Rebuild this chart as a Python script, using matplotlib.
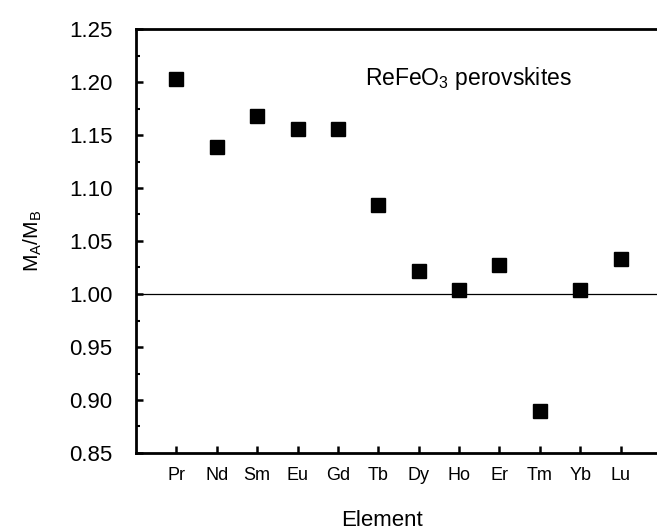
import numpy as np
import matplotlib.pyplot as plt
from matplotlib.ticker import MultipleLocator

plt.rcParams['font.family'] = ['Liberation Sans', 'DejaVu Sans']

elements = ['Pr', 'Nd', 'Sm', 'Eu', 'Gd', 'Tb', 'Dy', 'Ho', 'Er', 'Tm', 'Yb', 'Lu']
ratio = [1.203, 1.139, 1.168, 1.156, 1.156, 1.084, 1.022, 1.004, 1.027, 0.890, 1.004, 1.033]

fig = plt.figure(figsize=(6.57, 5.32), dpi=100)
# right spine sits just off the canvas, as in the original
ax = fig.add_axes([136 / 657, 79 / 532, 525 / 657, 424 / 532])

x = np.arange(1, len(elements) + 1)
ax.plot(x, ratio, 's', color='black', markersize=9.4, linestyle='none', clip_on=False)
ax.axhline(1.0, color='black', linewidth=0.9)

ax.set_xlim(0, 13)
ax.set_xticks(x)
ax.set_xticklabels(elements, fontsize=13)
ax.yaxis.set_minor_locator(MultipleLocator(0.025))
ax.set_yticks(np.arange(0.85, 1.2501, 0.05))
ax.set_yticklabels([f'{v:.2f}' for v in ax.get_yticks()], fontsize=16)
ax.set_ylim(0.85, 1.25)

ax.tick_params(which='major', direction='in', length=5, width=1.8)
ax.tick_params(which='minor', direction='in', length=3, width=1.5)
ax.tick_params(axis='x', pad=10)
ax.tick_params(axis='y', pad=17)
for s in ax.spines.values():
    s.set_linewidth(2)

ax.set_xlabel('Element', fontsize=16)
ax.xaxis.set_label_coords(0.469, -0.135)
ax.set_ylabel(r'M$_\mathregular{A}$/M$_\mathregular{B}$', fontsize=15, labelpad=18)
ax.text(0.436, 1.203, r'ReFeO$_\mathregular{3}$ perovskites', fontsize=16.5,
        transform=ax.get_yaxis_transform(), va='center')

fig.savefig('out.png', dpi=100)
